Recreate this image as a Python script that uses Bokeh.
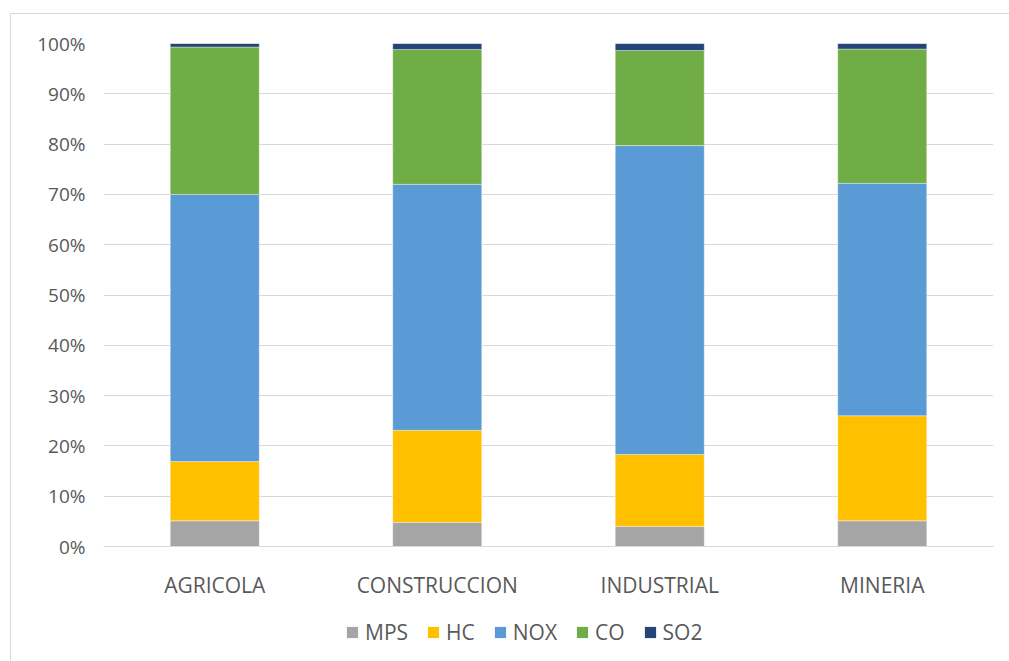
from bokeh.plotting import figure
from bokeh.layouts import column
from bokeh.models import NumeralTickFormatter, Legend, LegendItem, FixedTicker, Range1d
from bokeh.embed import file_html
from bokeh.resources import INLINE

categories = ["AGRICOLA", "CONSTRUCCION", "INDUSTRIAL", "MINERIA"]
series = ["MPS", "HC", "NOX", "CO", "SO2"]
MPS = [0.051, 0.048, 0.040, 0.051]
HC = [0.118, 0.183, 0.143, 0.209]
NOX = [0.531, 0.489, 0.614, 0.462]
CO = [0.293, 0.268, 0.189, 0.267]
SO2 = [0.007, 0.012, 0.014, 0.011]
colors = ["#a5a5a5", "#ffc000", "#5b9bd5", "#70ad47", "#264478"]
y_ticks = [0, 0.1, 0.2, 0.3, 0.4, 0.5, 0.6, 0.7, 0.8, 0.9, 1.0]

data = {"cat": categories, "MPS": MPS, "HC": HC, "NOX": NOX, "CO": CO, "SO2": SO2}

FONT = "Open Sans"
TXT = "#595959"

p = figure(x_range=categories, y_range=(0, 1), frame_width=890, frame_height=503,
           output_backend="svg", toolbar_location=None,
           min_border_left=92, min_border_right=16, min_border_top=29, min_border_bottom=64)

p.vbar_stack(series, x="cat", width=0.4, color=colors, source=data,
             line_color="white", line_width=0.6, line_alpha=0.6)

p.outline_line_color = None
p.xgrid.grid_line_color = None
p.ygrid.grid_line_color = "#d9d9d9"
p.ygrid.grid_line_width = 1
p.yaxis.ticker = FixedTicker(ticks=y_ticks)
p.yaxis.formatter = NumeralTickFormatter(format="0%")
p.yaxis.axis_line_color = None
p.yaxis.major_tick_line_color = None
p.yaxis.minor_tick_line_color = None
p.xaxis.axis_line_color = "#d9d9d9"
p.xaxis.major_tick_line_color = None
p.xaxis.minor_tick_line_color = None
p.xaxis.major_label_standoff = 18
p.yaxis.major_label_standoff = 12
p.xaxis.major_label_text_font_size = "21px"
p.yaxis.major_label_text_font_size = "19px"
for ax in (p.xaxis, p.yaxis):
    ax.major_label_text_font = FONT
    ax.major_label_text_color = TXT

# legend strip below the chart (zero-height placeholder bars carry the legend swatches)
lg = figure(width=998, height=51, output_backend="svg", toolbar_location=None,
            x_range=Range1d(0, 1), y_range=Range1d(0, 1),
            min_border_left=0, min_border_right=0, min_border_top=0, min_border_bottom=0)
lg.axis.visible = False
lg.grid.visible = False
lg.outline_line_color = None
items = []
for s, c in zip(series, colors):
    r = lg.vbar(x=[0.5], top=[0], bottom=[0], width=0.01, fill_color=c, line_color=None)
    items.append(LegendItem(label=s, renderers=[r]))
legend = Legend(items=items, orientation="horizontal", location=(242, 15),
                label_text_font=FONT, label_text_font_size="21px", label_text_color=TXT,
                glyph_width=14, glyph_height=14, spacing=18, label_standoff=6,
                border_line_color=None, background_fill_alpha=0, margin=0, padding=2)
lg.add_layout(legend, "center")

layout = column(p, lg, spacing=0)
layout.styles = {"margin-left": "10px", "margin-top": "13px",
                 "border-left": "1px solid #d9d9d9", "border-top": "1px solid #d9d9d9"}

open("out.html", "w").write(file_html(layout, INLINE))
